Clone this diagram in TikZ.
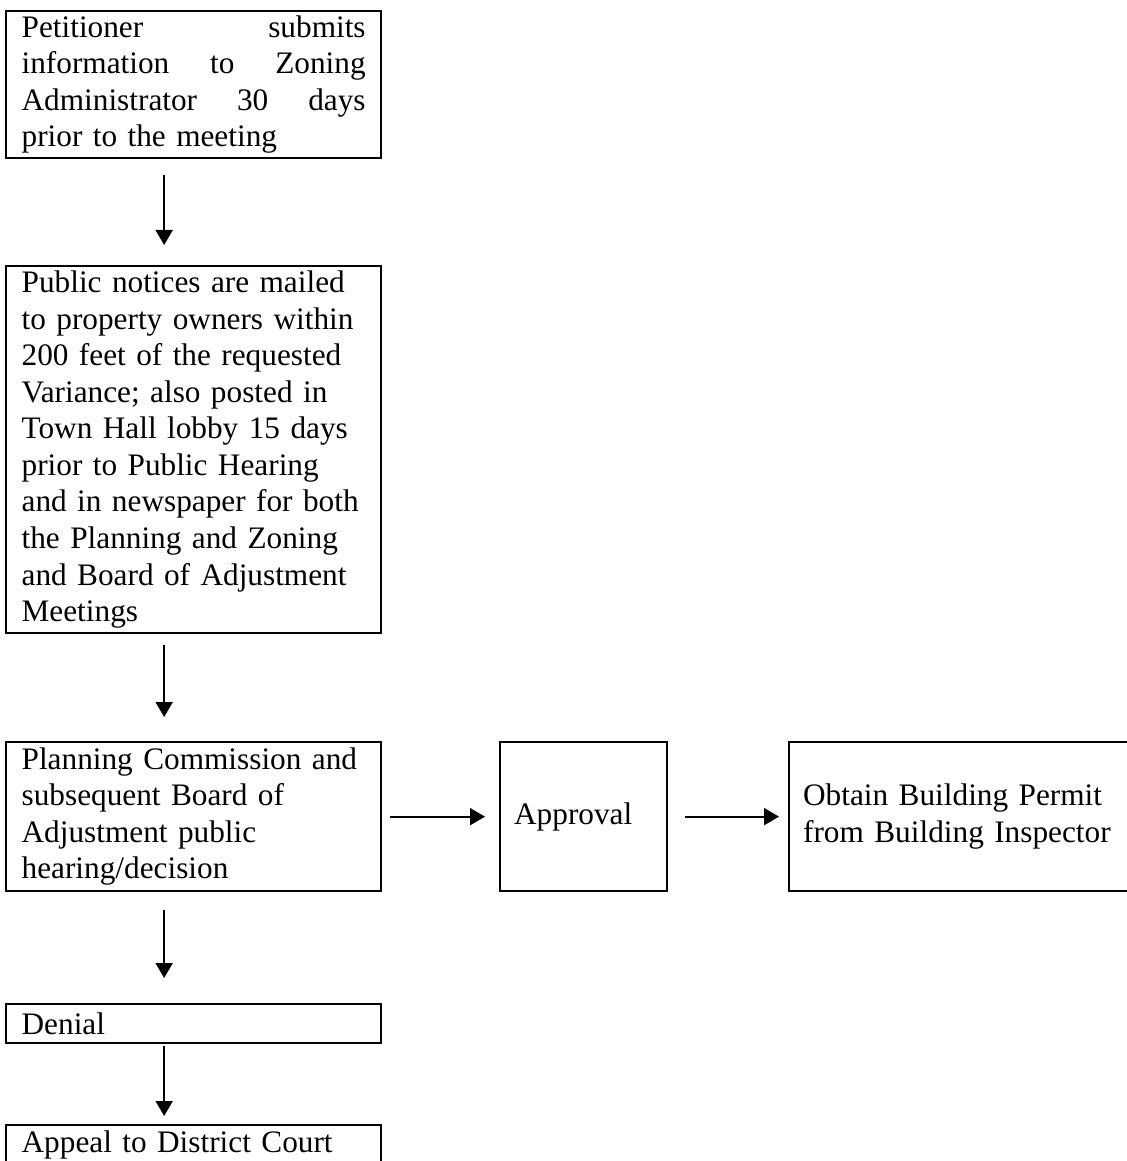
\documentclass[tikz,border=0pt]{standalone}
\usepackage{fontspec}
\setmainfont{Liberation Serif}
\usetikzlibrary{arrows.meta}

\tikzset{
  stage/.style={draw, line width=1.3pt, anchor=north west, inner xsep=2.8mm, inner ysep=0pt,
    align=left, font=\fontsize{17.8pt}{20.8pt}\selectfont},
  column/.style={stage, text width=68.8mm, minimum width=75mm},
  flow/.style={line width=1.1pt, -{Triangle[width=3.4mm,length=3mm]}}
}

\begin{document}
\begin{tikzpicture}[x=0.2mm,y=-0.2mm]
  \useasboundingbox (0,0) rectangle (1126,1161);
  % left column
  \node[column, minimum height=29.4mm] (petition) at (5,10)
    {Petitioner\hfill submits\\
     information\hfill to\hfill Zoning\\
     Administrator\hfill 30\hfill days\\
     prior to the meeting};
  \node[column, minimum height=73.4mm] (notices) at (5,265)
    {Public notices are mailed\\
     to property owners within\\
     200 feet of the requested\\
     Variance; also posted in\\
     Town Hall lobby 15 days\\
     prior to Public Hearing\\
     and in newspaper for both\\
     the Planning and Zoning\\
     and Board of Adjustment\\
     Meetings};
  \node[column, minimum height=29.8mm] (hearing) at (5,741)
    {Planning Commission and\\
     subsequent Board of\\
     Adjustment public\\
     hearing/decision};
  \node[column, minimum height=7.8mm] (denial) at (5,1003) {Denial};
  \node[column, minimum height=7.8mm] (appeal) at (5,1124) {Appeal to District Court};
  % right row
  \node[stage, text width=27.8mm, minimum width=33.4mm, minimum height=29.8mm] (approval) at (499,741) {Approval};
  \node[stage, text width=63.4mm, minimum width=69mm, minimum height=29.8mm] (permit) at (788,741)
    {Obtain Building Permit\\
     from Building Inspector};

  \draw[flow, shorten <=3.2mm, shorten >=4mm] ([xshift=-5.9mm]petition.south) -- ([xshift=-5.9mm]notices.north);
  \draw[flow, shorten <=2.2mm, shorten >=4.8mm] ([xshift=-5.9mm]notices.south) -- ([xshift=-5.9mm]hearing.north);
  \draw[flow, shorten <=3.6mm, shorten >=5mm] ([xshift=-5.9mm]hearing.south) -- ([xshift=-5.9mm]denial.north);
  \draw[flow, shorten <=0.4mm, shorten >=1.6mm] ([xshift=-5.9mm]denial.south) -- ([xshift=-5.9mm]appeal.north);
  \draw[flow, shorten <=1.6mm, shorten >=2.8mm] (hearing.east) -- (approval.west);
  \draw[flow, shorten <=3.4mm, shorten >=1.8mm] (approval.east) -- (permit.west);
\end{tikzpicture}
\end{document}
